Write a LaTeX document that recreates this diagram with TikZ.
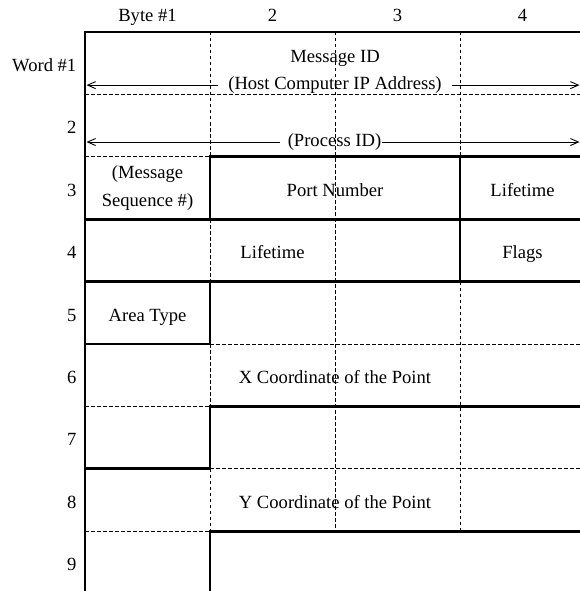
\documentclass[tikz,border=0pt]{standalone}
\usepackage{fontspec}
\setmainfont{Liberation Serif}
\usetikzlibrary{arrows.meta}
\begin{document}
\begin{tikzpicture}[x=1pt,y=-1pt,
  gridline/.style={line width=0.9pt,dash pattern=on 3.5pt off 2.5pt},
  boldline/.style={line width=2.8pt,line join=miter,line cap=rect},
  arr/.style={line width=0.9pt,-{Straight Barb[length=8pt,width=7pt]}},
  lbl/.style={anchor=base,inner sep=0pt,font=\fontsize{18.6}{22}\selectfont},
  rlbl/.style={anchor=base east,inner sep=0pt,font=\fontsize{18.6}{22}\selectfont}]
\def\xA{85}\def\xB{210}\def\xC{335}\def\xD{460}\def\xR{592}
\def\yA{32}\def\yB{94.4}\def\yC{156.8}\def\yD{219.2}\def\yE{281.6}
\def\yF{344}\def\yG{406.4}\def\yH{468.8}\def\yI{531.2}\def\yJ{600}
\path[use as bounding box] (0,0) rectangle (580,591);
\clip (0,0) rectangle (580,591);
% dashed grid
\draw[gridline] (\xB,\yA) -- (\xB,\yC);
\draw[gridline] (\xB,\yD) -- (\xB,\yE);
\draw[gridline] (\xB,\yF) -- (\xB,\yG);
\draw[gridline] (\xB,\yH) -- (\xB,\yI);
\draw[gridline] (\xC,\yA) -- (\xC,\yI);
\draw[gridline] (\xD,\yA) -- (\xD,\yC);
\draw[gridline] (\xD,\yE) -- (\xD,\yI);
\draw[gridline] (\xA,\yB) -- (\xR,\yB);
\draw[gridline] (\xA,\yC) -- (\xB,\yC);
\draw[gridline] (\xB,\yF) -- (\xR,\yF);
\draw[gridline] (\xA,\yG) -- (\xB,\yG);
\draw[gridline] (\xB,\yH) -- (\xR,\yH);
\draw[gridline] (\xA,\yI) -- (\xB,\yI);
% bold field borders
\draw[boldline] (\xR,\yA) -- (\xA,\yA) -- (\xA,\yJ);
\draw[boldline] (\xB,\yD) -- (\xB,\yC) -- (\xR,\yC);
\draw[boldline] (\xD,\yC) -- (\xD,\yE);
\draw[boldline] (\xA,\yD) -- (\xR,\yD);
\draw[boldline] (\xA,\yE) -- (\xR,\yE);
\draw[boldline] (\xA,\yF) -- (\xB,\yF) -- (\xB,\yE);
\draw[boldline] (\xA,\yH) -- (\xB,\yH) -- (\xB,\yG) -- (\xR,\yG);
\draw[boldline] (\xB,\yJ) -- (\xB,\yI) -- (\xR,\yI);
% column labels
\node[lbl] (c1) at (147.5,22) {Byte \#1};
\node[lbl] (c2) at (272.5,22) {2};
\node[lbl] (c3) at (397.5,22) {3};
\node[lbl] (c4) at (522.5,22) {4};
% row labels
\node[rlbl] (r1) at (76.5,71.5) {Word \#1};
\node[rlbl] (r2) at (76.5,133.9) {2};
\node[rlbl] (r3) at (76.5,196.3) {3};
\node[rlbl] (r4) at (76.5,258.7) {4};
\node[rlbl] (r5) at (76.5,321.1) {5};
\node[rlbl] (r6) at (76.5,383.5) {6};
\node[rlbl] (r7) at (76.5,445.9) {7};
\node[rlbl] (r8) at (76.5,508.3) {8};
\node[rlbl] (r9) at (76.5,570.7) {9};
% field labels
\node[lbl] (msgid) at (335,63) {Message ID};
\node[lbl] (host) at (335,89.6) {(Host Computer IP Address)};
\node[lbl] (proc) at (334.5,146.5) {(Process ID)};
\node[lbl] (seq1) at (147.5,178.3) {(Message};
\node[lbl] (seq2) at (147.5,206.6) {Sequence \#)};
\node[lbl] (port) at (335,196.3) {Port Number};
\node[lbl] (life1) at (522.5,196.3) {Lifetime};
\node[lbl] (life2) at (272.5,258.7) {Lifetime};
\node[lbl] (flags) at (522.5,258.7) {Flags};
\node[lbl] (area) at (147.5,321.1) {Area Type};
\node[lbl] (xco) at (335,383.5) {X Coordinate of the Point};
\node[lbl] (yco) at (335,508.3) {Y Coordinate of the Point};
% arrows
\coordinate (hl) at ([xshift=-10pt]host.west);
\coordinate (hr) at ([xshift=10pt]host.east);
\coordinate (pl) at ([xshift=-8pt]proc.west);
\coordinate (pr) at ([xshift=1pt]proc.east);
\coordinate (L) at (86.5,0);
\coordinate (R) at (579.5,0);
\draw[arr] (hl) -- (hl -| L);
\draw[arr] (hr) -- (hr -| R);
\draw[arr] (pl) -- (pl -| L);
\draw[arr] (pr) -- (pr -| R);
\end{tikzpicture}
\end{document}
